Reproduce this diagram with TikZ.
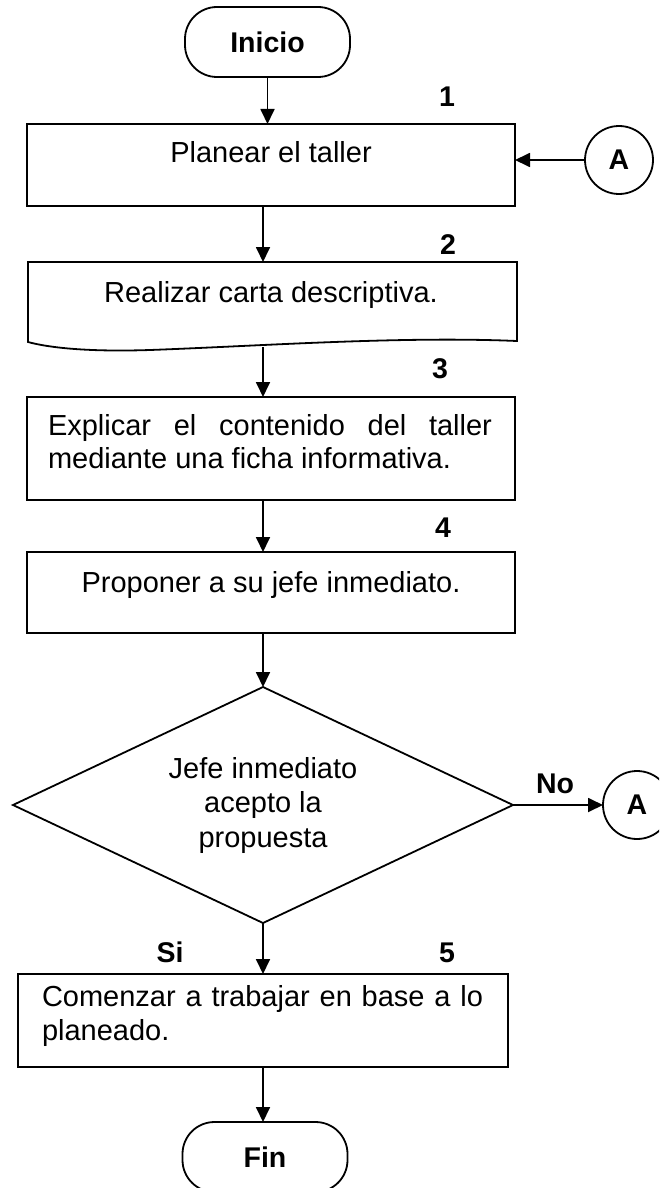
\documentclass[tikz,border=0pt]{standalone}
\usepackage{fontspec}
\setmainfont{Liberation Sans}
\usetikzlibrary{shapes.geometric,arrows.meta}
\begin{document}
\begin{tikzpicture}[x=1pt,y=-1pt,line width=1.8pt,
  every node/.style={font=\fontsize{29}{34.5}\selectfont, inner sep=0pt, outer sep=0pt},
  box/.style={draw, rectangle},
  term/.style={draw, rectangle, rounded corners=32pt, minimum width=165pt, minimum height=70pt, font=\fontsize{28.5}{34}\selectfont\bfseries},
  conn/.style={draw, circle, minimum size=68pt, font=\fontsize{28.5}{34}\selectfont\bfseries},
  num/.style={anchor=base, font=\fontsize{28.5}{34}\selectfont\bfseries},
  lbl/.style={anchor=base},
  para/.style={anchor=north west, align=left},
  arr/.style={-{Triangle[length=15pt,width=14pt]}}]
\useasboundingbox (0,0) rectangle (659,1188);
\clip (0,0) rectangle (659,1188);
\coordinate (axis) at (263,0);

% terminals and connectors
\node[term] (ini) at (267.5,42) {Inicio};
\node[term] (fin) at (265,1157) {Fin};
\node[conn] (A1) at (619,160) {A};
\node[conn] (A2) at (637,805) {A};

% step 1
\node[box, minimum width=488pt, minimum height=82pt] (b1) at (271,165) {};
\node[lbl] (t1) at (271,162) {Planear el taller};

% step 2 (document)
\coordinate (b2nw) at (28,262);
\coordinate (b2ne) at (517,262);
\coordinate (b2se) at (517,341);
\coordinate (b2sw) at (28,342);
\coordinate (b2n) at (263,262);
\coordinate (b2s) at (263,347);
\draw (b2nw) -- (b2ne) -- (b2se) .. controls (400,336) and (260,346) .. (150,350)
      .. controls (90,352) and (50,348) .. (b2sw) -- cycle;
\node[lbl] (t2) at (271,302) {Realizar carta descriptiva.};

% step 3
\node[box, minimum width=488pt, minimum height=103pt] (b3) at (271,448.5) {};
\node[para, font=\fontsize{29}{33}\selectfont] (t3) at (48,414.2)
  {\makebox[444pt][s]{Explicar el contenido del taller}\\mediante una ficha informativa.};

% step 4
\node[box, minimum width=488pt, minimum height=81pt] (b4) at (271,592.5) {};
\node[lbl] (t4) at (271,592) {Proponer a su jefe inmediato.};

% decision
\node[draw, diamond, aspect=2.14, minimum width=500pt, minimum height=236pt, align=center] (d) at (263,805)
  {Jefe inmediato\\acepto la\\propuesta};

% step 5
\node[box, minimum width=490pt, minimum height=93pt] (b5) at (263,1020.5) {};
\node[para, font=\fontsize{29}{34}\selectfont] (t5) at (42,985.2)
  {\makebox[441pt][s]{Comenzar a trabajar en base a lo}\\planeado.};

% numbers and labels
\node[num] (n1) at (447,107) {1};
\node[num] (n2) at (448,254.5) {2};
\node[num] (n3) at (440,378) {3};
\node[num] (n4) at (443,537) {4};
\node[num] (n5) at (447,962) {5};
\node[num] (si) at (170,962) {Si};
\node[num] (no) at (555,793) {No};

% connectors
\draw[arr] (ini.south) -- (b1.north -| ini.south);
\draw[arr] (b1.south -| axis) -- (b2n);
\draw[arr] (b2s) -- (b3.north -| axis);
\draw[arr] (b3.south -| axis) -- (b4.north -| axis);
\draw[arr] (b4.south -| axis) -- (d.north);
\draw[arr] (d.south) -- (b5.north -| axis);
\draw[arr] (b5.south -| axis) -- (fin.north -| axis);
\draw[arr] (A1.west) -- (A1.west -| b1.east);
\draw[arr] (d.east) -- (A2.west);
\end{tikzpicture}
\end{document}
